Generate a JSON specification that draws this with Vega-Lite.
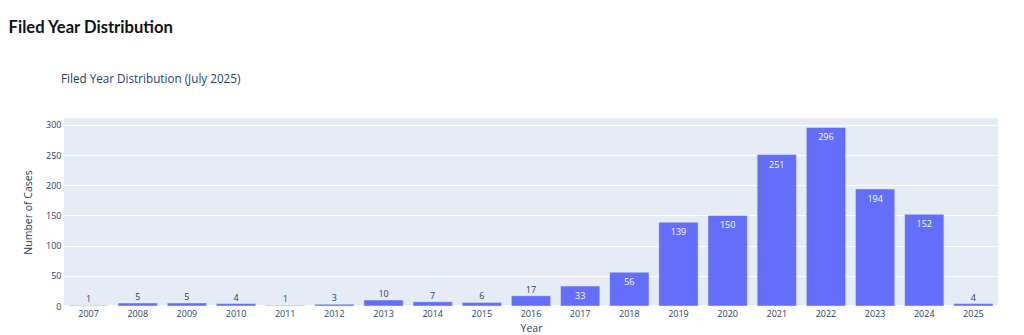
{
  "$schema": "https://vega.github.io/schema/vega-lite/v6.json",
  "background": "white",
  "padding": {"left": 8, "top": 19, "right": 5, "bottom": 0},
  "title": {"text": "Filed Year Distribution", "anchor": "start", "frame": "bounds", "dx": -15, "font": "Lato", "fontSize": 16.6, "fontWeight": "bold", "color": "#111111", "offset": 38},
  "data": {"values": [
    {"year": "2007", "count": 1}, {"year": "2008", "count": 5}, {"year": "2009", "count": 5},
    {"year": "2010", "count": 4}, {"year": "2011", "count": 1}, {"year": "2012", "count": 3},
    {"year": "2013", "count": 10}, {"year": "2014", "count": 7}, {"year": "2015", "count": 6},
    {"year": "2016", "count": 17}, {"year": "2017", "count": 33}, {"year": "2018", "count": 56},
    {"year": "2019", "count": 139}, {"year": "2020", "count": 150}, {"year": "2021", "count": 251},
    {"year": "2022", "count": 296}, {"year": "2023", "count": 194}, {"year": "2024", "count": 152},
    {"year": "2025", "count": 4}
  ]},
  "vconcat": [{
    "title": {"text": "Filed Year Distribution (July 2025)", "anchor": "start", "frame": "group", "dx": -3, "font": "Open Sans", "fontSize": 11.7, "fontWeight": "normal", "color": "#2a3f5f", "offset": 32},
    "width": 934,
    "height": 188,
    "encoding": {
      "x": {"field": "year", "type": "nominal", "sort": null,
        "scale": {"paddingInner": 0.2, "paddingOuter": 0.1},
        "axis": {"title": "Year", "labelAngle": 0, "domain": false, "ticks": false, "labelPadding": 3, "titlePadding": 5,
          "labelFont": "Open Sans", "labelFontSize": 9, "labelColor": "#2a3f5f",
          "titleFont": "Open Sans", "titleFontSize": 10.5, "titleFontWeight": "normal", "titleColor": "#2a3f5f"}},
      "y": {"field": "count", "type": "quantitative",
        "scale": {"domain": [0, 311.6], "nice": false, "zero": true},
        "axis": {"title": "Number of Cases", "values": [0, 50, 100, 150, 200, 250, 300], "domain": false, "ticks": false,
          "grid": true, "gridColor": "white", "gridWidth": 1, "labelPadding": 3, "titlePadding": 12,
          "labelFont": "Open Sans", "labelFontSize": 9, "labelColor": "#2a3f5f",
          "titleFont": "Open Sans", "titleFontSize": 10.5, "titleFontWeight": "normal", "titleColor": "#2a3f5f"}}
    },
    "layer": [
      {"mark": {"type": "rule", "color": "white", "strokeWidth": 2}, "encoding": {"x": null, "y": {"datum": 0}}},
      {"mark": {"type": "bar", "color": "#636EFA", "stroke": "#E5ECF6", "strokeWidth": 0.5}},
      {"transform": [{"filter": "datum.count >= 30"}],
        "mark": {"type": "text", "baseline": "top", "dy": 6, "color": "white", "font": "Open Sans", "fontSize": 9},
        "encoding": {"text": {"field": "count", "type": "quantitative"}}},
      {"transform": [{"filter": "datum.count < 30"}],
        "mark": {"type": "text", "baseline": "bottom", "dy": -1, "color": "#2a3f5f", "font": "Open Sans", "fontSize": 9},
        "encoding": {"text": {"field": "count", "type": "quantitative"}}}
    ]
  }],
  "config": {"view": {"fill": "#E5ECF6", "stroke": null}, "concat": {"spacing": 0}}
}
